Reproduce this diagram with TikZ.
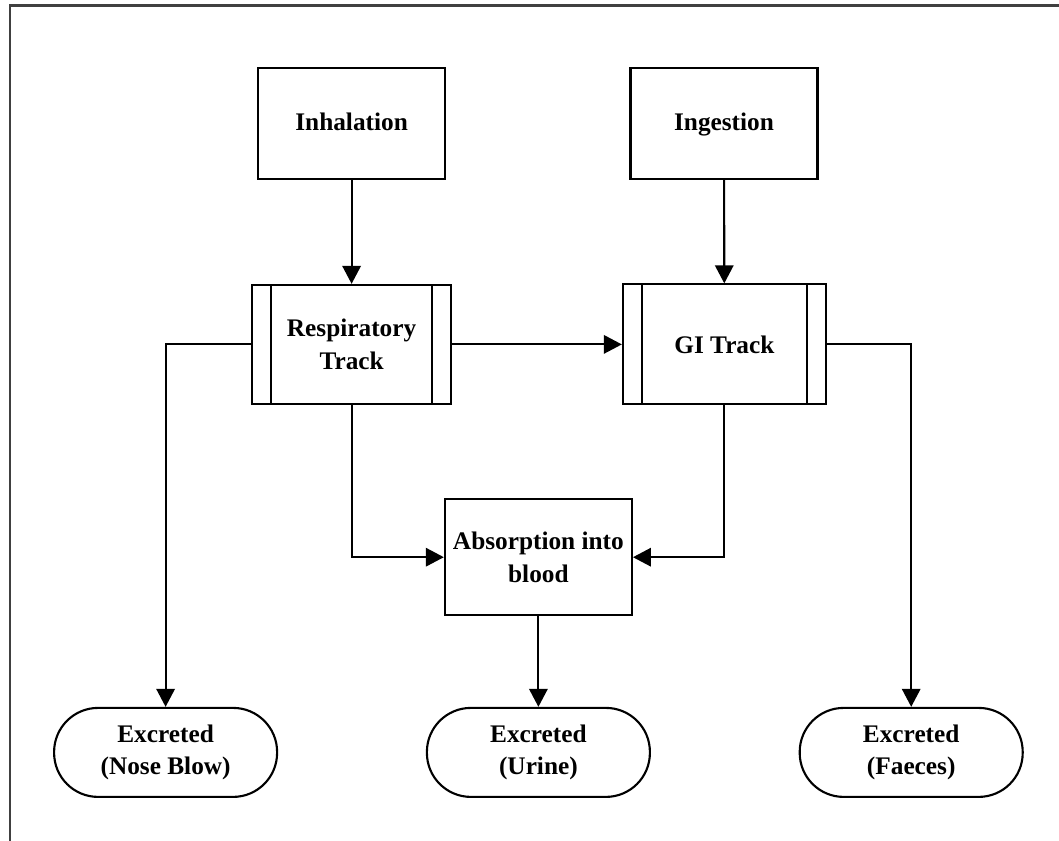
\documentclass[tikz,border=0pt]{standalone}
\usepackage{fontspec}
\setmainfont{Liberation Serif}
\usepackage{tikz}
\usetikzlibrary{arrows.meta,positioning}

\begin{document}
\begin{tikzpicture}[
      stepbox/.style={draw, line width=1.5pt, minimum width=4.675cm, minimum height=2.775cm, align=center, font=\bfseries\fontsize{18}{23}\selectfont},
      trackbox/.style={stepbox, minimum width=4.975cm, minimum height=2.975cm, path picture={
        \draw[line width=1.5pt] ([xshift=0.475cm]path picture bounding box.north west) -- ([xshift=0.475cm]path picture bounding box.south west);
        \draw[line width=1.5pt] ([xshift=-0.475cm]path picture bounding box.north east) -- ([xshift=-0.475cm]path picture bounding box.south east);
      }},
      endbox/.style={stepbox, rounded corners=1.1cm, minimum width=5.575cm, minimum height=2.225cm},
      arrowstyle/.style={-{Triangle[length=0.45cm, width=0.46cm]}, line width=1.5pt}
    ]
    \useasboundingbox (0,0) rectangle (26.475,-21.025);
    \draw[line width=2.1pt, black!75] (0.25,-21.1) -- (0.25,-0.14) -- (26.6,-0.14);

    \node[stepbox] (inhal) at (8.79,-3.09) {\strut Inhalation};
    \node[stepbox] (ingest) at (18.1,-3.09) {\strut Ingestion};

    \node[trackbox] (resp) at (8.79,-8.61) {Respiratory\\Track};
    \node[trackbox, minimum width=5.075cm, minimum height=3cm] (gi) at (18.11,-8.61) {GI Track};

    \node[stepbox, minimum height=2.9cm] (absorb) at (13.46,-13.93) {Absorption into\\blood};

    \node[endbox] (nose) at (4.14,-18.81) {Excreted\\(Nose Blow)};
    \node[endbox] (urine) at (13.46,-18.81) {Excreted\\(Urine)};
    \node[endbox] (faeces) at (22.78,-18.81) {Excreted\\(Faeces)};

    \draw[arrowstyle] (inhal) -- (resp);
    \draw[arrowstyle] (ingest) -- (gi);
    \draw[arrowstyle] (resp) -- (gi);
    \draw[arrowstyle] (resp.west) -| (nose.north);
    \draw[arrowstyle] (gi.east) -| (faeces.north);
    \draw[arrowstyle] (resp.south) |- (absorb.west);
    \draw[arrowstyle] (gi.south) |- (absorb.east);
    \draw[arrowstyle] (absorb) -- (urine);
  \end{tikzpicture}
\end{document}
